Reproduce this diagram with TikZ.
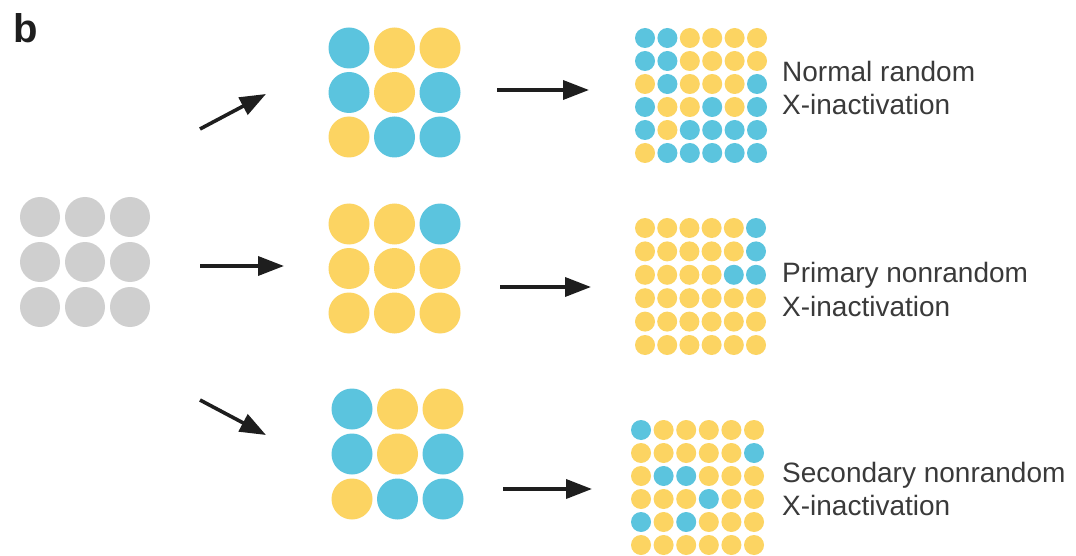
\documentclass[tikz,border=0pt]{standalone}
\usepackage{fontspec}
\setmainfont{Liberation Sans}
\usetikzlibrary{arrows.meta}
\definecolor{cb}{HTML}{5BC4DE}
\definecolor{cy}{HTML}{FCD462}
\definecolor{cg}{HTML}{CFCFCF}
\definecolor{txt}{HTML}{3A3A3A}
\definecolor{arr}{HTML}{1E1E1E}
\tikzset{
  dot/.style={circle, inner sep=0pt, minimum size=#1, draw=none},
  arrowline/.style={draw=arr, line width=3.6pt, -{Triangle[length=26pt,width=19pt]}},
  label/.style={font=\fontsize{28}{33}\selectfont, text=txt, inner sep=0pt, anchor=base west},
  panel/.style={font=\fontsize{40}{44}\selectfont\bfseries, text=arr, inner sep=0pt, anchor=base west}
}
\newcommand\drawgrid[8]{%
  \foreach \c [count=\k from 0] in {#8} {%
    \pgfmathtruncatemacro\rr{div(\k,#2)}%
    \pgfmathtruncatemacro\qq{mod(\k,#2)}%
    \node[dot=#7, fill=\c] (#1-\rr-\qq) at ({#3+\qq*#5},{#4+\rr*#6}) {};
  }%
}
\begin{document}
\begin{tikzpicture}[x=1pt,y=-1pt]
\useasboundingbox[fill=white] (0,0) rectangle (1076,556);

\node[panel] (lab) at (13,43) {b};

% gray start grid
\drawgrid{g}{3}{40}{217}{45}{45}{40pt}{cg,cg,cg,cg,cg,cg,cg,cg,cg}

% medium grids
\drawgrid{ma}{3}{349}{48}{45.5}{44.5}{41pt}{cb,cy,cy,cb,cy,cb,cy,cb,cb}
\drawgrid{mb}{3}{349}{224}{45.5}{44.5}{41pt}{cy,cy,cb,cy,cy,cy,cy,cy,cy}
\drawgrid{mc}{3}{352}{409}{45.5}{45}{41pt}{cb,cy,cy,cb,cy,cb,cy,cb,cb}

% small grids
\drawgrid{sa}{6}{645}{38}{22.4}{23}{20pt}{%
  cb,cb,cy,cy,cy,cy,
  cb,cb,cy,cy,cy,cy,
  cy,cb,cy,cy,cy,cb,
  cb,cy,cy,cb,cy,cb,
  cb,cy,cb,cb,cb,cb,
  cy,cb,cb,cb,cb,cb}
\drawgrid{sb}{6}{645}{228}{22.2}{23.4}{20pt}{%
  cy,cy,cy,cy,cy,cb,
  cy,cy,cy,cy,cy,cb,
  cy,cy,cy,cy,cb,cb,
  cy,cy,cy,cy,cy,cy,
  cy,cy,cy,cy,cy,cy,
  cy,cy,cy,cy,cy,cy}
\drawgrid{sc}{6}{641}{430}{22.6}{23}{20pt}{%
  cb,cy,cy,cy,cy,cy,
  cy,cy,cy,cy,cy,cb,
  cy,cb,cb,cy,cy,cy,
  cy,cy,cy,cb,cy,cy,
  cb,cy,cb,cy,cy,cy,
  cy,cy,cy,cy,cy,cy}

% arrow end points
\coordinate (a1s) at (200,129);
\coordinate (a1e) at (266,94);
\coordinate (a2s) at (200,266);
\coordinate (a2e) at (284,266);
\coordinate (a3s) at (200,400);
\coordinate (a3e) at (266,435);
\coordinate (h1s) at (497,90);
\coordinate (h1e) at (589,90);
\coordinate (h2s) at (500,287);
\coordinate (h2e) at (591,287);
\coordinate (h3s) at (503,489);
\coordinate (h3e) at (592,489);

\draw[arrowline] (a1s) -- (a1e);
\draw[arrowline] (a2s) -- (a2e);
\draw[arrowline] (a3s) -- (a3e);
\draw[arrowline] (h1s) -- (h1e);
\draw[arrowline] (h2s) -- (h2e);
\draw[arrowline] (h3s) -- (h3e);

% labels
\node[label] (t1a) at (782,82) {Normal random};
\node[label] (t1b) at (782,115) {X-inactivation};
\node[label] (t2a) at (782,282) {Primary nonrandom};
\node[label] (t2b) at (782,316) {X-inactivation};
\node[label] (t3a) at (782,482) {Secondary nonrandom};
\node[label] (t3b) at (782,515) {X-inactivation};
\end{tikzpicture}
\end{document}
